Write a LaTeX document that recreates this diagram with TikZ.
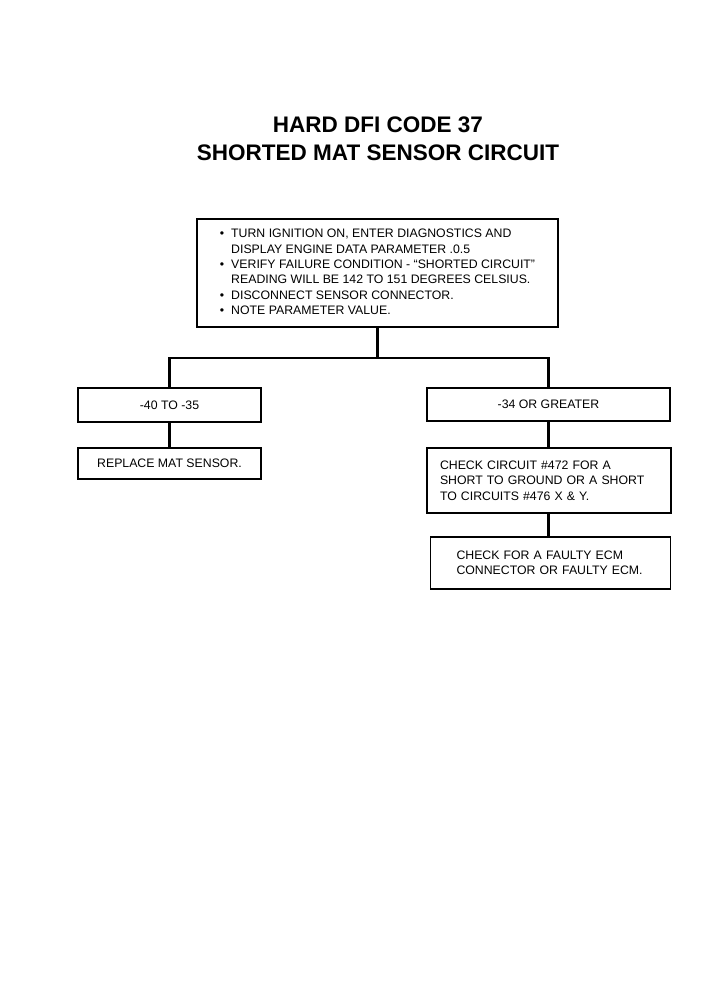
\documentclass[tikz,border=0pt]{standalone}
\usepackage{fontspec}
\setmainfont{Liberation Sans}
\usetikzlibrary{positioning}
\tikzset{
  every picture/.style={line width=1.6pt},
  box/.style={draw=black, rectangle, align=center, inner sep=0pt, font=\fontsize{12.3}{15.3}\selectfont},
  leftbox/.style={box, align=left, text width=#1},
  link/.style={draw=black, line width=2.4pt},
  title/.style={font=\fontsize{22.5}{28}\selectfont\bfseries, align=center},
}

\begin{document}
\begin{tikzpicture}[x=1pt, y=-1pt]
  \useasboundingbox (0,0) rectangle (709,989);
  % heading
  \node[title] (head) at (378,139) {HARD DFI CODE 37\\SHORTED MAT SENSOR CIRCUIT};
  % first step
  \node[box, minimum width=361pt, minimum height=108pt] (start) at (377.5,273) {%
    \begin{tabular}{@{}l@{\hspace{7pt}}l@{}}
      \textbullet & TURN IGNITION ON, ENTER DIAGNOSTICS AND\\
                  & DISPLAY ENGINE DATA PARAMETER .0.5\\
      \textbullet & VERIFY FAILURE CONDITION - ``SHORTED CIRCUIT''\\
                  & READING WILL BE 142 TO 151 DEGREES CELSIUS.\\
      \textbullet & DISCONNECT SENSOR CONNECTOR.\\
      \textbullet & NOTE PARAMETER VALUE.
    \end{tabular}};
  % left branch
  \node[box, minimum width=183pt, minimum height=34pt] (low) at (169.5,405) {-40 TO -35};
  \node[box, minimum width=183pt, minimum height=31pt] (replace) at (169.5,463.5) {REPLACE MAT SENSOR.};
  % right branch
  \node[box, minimum width=243pt, minimum height=33pt] (high) at (548.5,404.5) {-34 OR GREATER};
  \node[leftbox=218pt, inner xsep=13pt, minimum height=65pt] (circuit) at (549,480.5)
    {CHECK CIRCUIT \#472 FOR A\\SHORT TO GROUND OR A SHORT\\TO CIRCUITS \#476 X \& Y.};
  \node[leftbox=188pt, inner xsep=26pt, minimum height=52pt] (ecm) at (550.5,563)
    {CHECK FOR A FAULTY ECM\\CONNECTOR OR FAULTY ECM.};
  % connectors
  \coordinate (split) at (start.south |- 0,358);
  \draw[link] (start.south) -- (split);
  \draw[link] (low.north) |- (split) -| (high.north);
  \draw[link] (low.south) -- (replace.north);
  \draw[link] (high.south) -- (high.south |- circuit.north);
  \draw[link] (circuit.south -| high.south) -- (high.south |- ecm.north);
\end{tikzpicture}
\end{document}
